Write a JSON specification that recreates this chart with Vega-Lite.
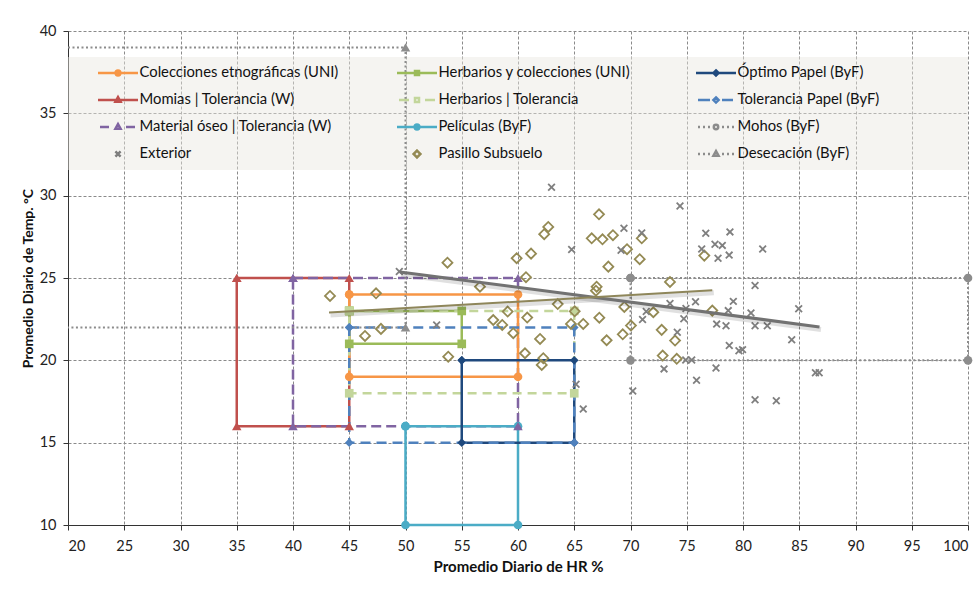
{
  "$schema": "https://vega.github.io/schema/vega-lite/v6.json",
  "width": 900,
  "height": 494,
  "autosize": {"type": "none"},
  "padding": {"left": 68, "top": 31, "right": 6, "bottom": 77},
  "background": "white",
  "datasets": {
    "shapes": [
      {"s": "Momias | Tolerancia (W)", "o": 1, "x": 35, "y": 25},
      {"s": "Momias | Tolerancia (W)", "o": 2, "x": 45, "y": 25},
      {"s": "Momias | Tolerancia (W)", "o": 3, "x": 45, "y": 16},
      {"s": "Momias | Tolerancia (W)", "o": 4, "x": 35, "y": 16},
      {"s": "Momias | Tolerancia (W)", "o": 5, "x": 35, "y": 25},
      {"s": "Material óseo | Tolerancia (W)", "o": 1, "x": 40, "y": 25},
      {"s": "Material óseo | Tolerancia (W)", "o": 2, "x": 60, "y": 25},
      {"s": "Material óseo | Tolerancia (W)", "o": 3, "x": 60, "y": 16},
      {"s": "Material óseo | Tolerancia (W)", "o": 4, "x": 40, "y": 16},
      {"s": "Material óseo | Tolerancia (W)", "o": 5, "x": 40, "y": 25},
      {"s": "Colecciones etnográficas (UNI)", "o": 1, "x": 45, "y": 24},
      {"s": "Colecciones etnográficas (UNI)", "o": 2, "x": 60, "y": 24},
      {"s": "Colecciones etnográficas (UNI)", "o": 3, "x": 60, "y": 19},
      {"s": "Colecciones etnográficas (UNI)", "o": 4, "x": 45, "y": 19},
      {"s": "Colecciones etnográficas (UNI)", "o": 5, "x": 45, "y": 24},
      {"s": "Herbarios y colecciones (UNI)", "o": 1, "x": 45, "y": 23},
      {"s": "Herbarios y colecciones (UNI)", "o": 2, "x": 55, "y": 23},
      {"s": "Herbarios y colecciones (UNI)", "o": 3, "x": 55, "y": 21},
      {"s": "Herbarios y colecciones (UNI)", "o": 4, "x": 45, "y": 21},
      {"s": "Herbarios y colecciones (UNI)", "o": 5, "x": 45, "y": 23},
      {"s": "Herbarios | Tolerancia", "o": 1, "x": 45, "y": 23},
      {"s": "Herbarios | Tolerancia", "o": 2, "x": 65, "y": 23},
      {"s": "Herbarios | Tolerancia", "o": 3, "x": 65, "y": 18},
      {"s": "Herbarios | Tolerancia", "o": 4, "x": 45, "y": 18},
      {"s": "Herbarios | Tolerancia", "o": 5, "x": 45, "y": 23},
      {"s": "Películas (ByF)", "o": 1, "x": 50, "y": 16},
      {"s": "Películas (ByF)", "o": 2, "x": 60, "y": 16},
      {"s": "Películas (ByF)", "o": 3, "x": 60, "y": 10},
      {"s": "Películas (ByF)", "o": 4, "x": 50, "y": 10},
      {"s": "Películas (ByF)", "o": 5, "x": 50, "y": 16},
      {"s": "Óptimo Papel (ByF)", "o": 1, "x": 55, "y": 20},
      {"s": "Óptimo Papel (ByF)", "o": 2, "x": 65, "y": 20},
      {"s": "Óptimo Papel (ByF)", "o": 3, "x": 65, "y": 15},
      {"s": "Óptimo Papel (ByF)", "o": 4, "x": 55, "y": 15},
      {"s": "Óptimo Papel (ByF)", "o": 5, "x": 55, "y": 20},
      {"s": "Tolerancia Papel (ByF)", "o": 1, "x": 45, "y": 22},
      {"s": "Tolerancia Papel (ByF)", "o": 2, "x": 65, "y": 22},
      {"s": "Tolerancia Papel (ByF)", "o": 3, "x": 65, "y": 15},
      {"s": "Tolerancia Papel (ByF)", "o": 4, "x": 45, "y": 15},
      {"s": "Tolerancia Papel (ByF)", "o": 5, "x": 45, "y": 22},
      {"s": "Mohos (ByF)", "o": 1, "x": 70, "y": 25},
      {"s": "Mohos (ByF)", "o": 2, "x": 100, "y": 25},
      {"s": "Mohos (ByF)", "o": 3, "x": 100, "y": 20},
      {"s": "Mohos (ByF)", "o": 4, "x": 70, "y": 20},
      {"s": "Mohos (ByF)", "o": 5, "x": 70, "y": 25},
      {"s": "Desecación (ByF)", "o": 1, "x": 20, "y": 39},
      {"s": "Desecación (ByF)", "o": 2, "x": 50, "y": 39},
      {"s": "Desecación (ByF)", "o": 3, "x": 50, "y": 22},
      {"s": "Desecación (ByF)", "o": 4, "x": 20, "y": 22}
    ],
    "exterior": [
      {"x": 49.45, "y": 25.39}, {"x": 52.77, "y": 22.15}, {"x": 62.98, "y": 30.51}, {"x": 64.77, "y": 26.73},
      {"x": 69.42, "y": 28.02}, {"x": 71.0, "y": 27.74}, {"x": 69.16, "y": 26.68}, {"x": 74.4, "y": 29.37},
      {"x": 73.51, "y": 23.45}, {"x": 75.78, "y": 23.56}, {"x": 76.69, "y": 27.72}, {"x": 78.84, "y": 27.8},
      {"x": 76.33, "y": 26.76}, {"x": 77.51, "y": 27.05}, {"x": 78.16, "y": 26.98}, {"x": 77.78, "y": 26.2},
      {"x": 78.77, "y": 26.39}, {"x": 81.75, "y": 26.76}, {"x": 81.07, "y": 24.54}, {"x": 74.93, "y": 23.15},
      {"x": 74.74, "y": 22.53}, {"x": 71.07, "y": 22.48}, {"x": 71.4, "y": 22.96}, {"x": 79.14, "y": 23.58},
      {"x": 78.69, "y": 23.02}, {"x": 80.71, "y": 22.88}, {"x": 77.66, "y": 22.2}, {"x": 78.49, "y": 22.1},
      {"x": 81.07, "y": 22.1}, {"x": 82.16, "y": 22.1}, {"x": 84.95, "y": 23.13}, {"x": 84.33, "y": 21.25},
      {"x": 78.78, "y": 20.9}, {"x": 79.64, "y": 20.58}, {"x": 79.96, "y": 20.65}, {"x": 74.16, "y": 21.71},
      {"x": 75.44, "y": 20.02}, {"x": 72.98, "y": 19.48}, {"x": 77.6, "y": 19.54}, {"x": 75.87, "y": 18.79},
      {"x": 70.2, "y": 18.14}, {"x": 81.07, "y": 17.61}, {"x": 82.96, "y": 17.55}, {"x": 65.8, "y": 17.04},
      {"x": 86.44, "y": 19.25}, {"x": 86.77, "y": 19.25}, {"x": 65.16, "y": 18.55}, {"x": 74.91, "y": 20.02}
    ],
    "pasillo": [
      {"x": 43.29, "y": 23.91}, {"x": 47.38, "y": 24.07}, {"x": 46.4, "y": 21.48}, {"x": 47.82, "y": 21.91},
      {"x": 53.73, "y": 25.93}, {"x": 53.8, "y": 20.22}, {"x": 56.62, "y": 24.47}, {"x": 57.8, "y": 22.45},
      {"x": 58.6, "y": 22.15}, {"x": 59.08, "y": 22.96}, {"x": 59.58, "y": 21.65}, {"x": 59.88, "y": 26.2},
      {"x": 60.71, "y": 25.05}, {"x": 60.82, "y": 22.6}, {"x": 61.16, "y": 26.48}, {"x": 61.96, "y": 21.3},
      {"x": 62.33, "y": 27.66}, {"x": 62.69, "y": 28.1}, {"x": 60.62, "y": 20.43}, {"x": 62.25, "y": 20.13},
      {"x": 62.11, "y": 19.72}, {"x": 63.53, "y": 23.42}, {"x": 65.04, "y": 22.98}, {"x": 64.71, "y": 22.21},
      {"x": 65.8, "y": 22.21}, {"x": 66.55, "y": 27.41}, {"x": 66.99, "y": 24.47}, {"x": 66.93, "y": 24.23},
      {"x": 67.2, "y": 28.87}, {"x": 67.51, "y": 27.35}, {"x": 68.44, "y": 27.6}, {"x": 67.23, "y": 22.59},
      {"x": 67.88, "y": 21.22}, {"x": 68.03, "y": 25.69}, {"x": 69.31, "y": 21.58}, {"x": 69.45, "y": 23.24},
      {"x": 69.69, "y": 26.75}, {"x": 70.04, "y": 22.11}, {"x": 70.82, "y": 26.14}, {"x": 71.0, "y": 27.41},
      {"x": 72.03, "y": 22.92}, {"x": 72.77, "y": 21.85}, {"x": 72.86, "y": 20.29}, {"x": 73.51, "y": 24.76},
      {"x": 73.96, "y": 21.2}, {"x": 74.11, "y": 20.09}, {"x": 76.56, "y": 26.36}, {"x": 77.27, "y": 23.02}
    ],
    "trends": [
      {"t": "Exterior", "x": 49.5, "y": 25.37},
      {"t": "Exterior", "x": 86.8, "y": 22.03},
      {"t": "Pasillo Subsuelo", "x": 43.2, "y": 22.9},
      {"t": "Pasillo Subsuelo", "x": 77.27, "y": 24.25}
    ]
  },
  "config": {
    "view": {"stroke": null},
    "axis": {
      "grid": true,
      "gridColor": "#8a8a8a",
      "gridDash": [3, 2],
      "gridWidth": 1,
      "domainColor": "#333333",
      "tickColor": "#333333",
      "tickSize": 5,
      "labelFont": "Lato",
      "titleFont": "Lato",
      "labelColor": "#222222",
      "titleColor": "#111111",
      "titleFontWeight": "bold"
    },
    "legend": {
      "orient": "none",
      "legendX": 28.5,
      "legendY": 34,
      "columns": 3,
      "gridAlign": "all",
      "columnPadding": 57,
      "rowPadding": 11,
      "symbolSize": 1600,
      "clipHeight": 16,
      "labelFont": "Lato",
      "labelFontSize": 14.8,
      "labelColor": "#111111",
      "labelOffset": 0,
      "labelLimit": 400,
      "padding": 0,
      "symbolStrokeWidth": 2.5,
      "symbolOpacity": 1
    }
  },
  "layer": [
    {
      "data": {"values": [{}]},
      "mark": {"type": "rect", "color": "#E9E7DF", "opacity": 0.45},
      "encoding": {
        "x": {"datum": 20, "type": "quantitative"},
        "x2": {"datum": 100},
        "y": {"datum": 38.42, "type": "quantitative"},
        "y2": {"datum": 31.56}
      }
    },
    {
      "data": {"name": "shapes"},
      "transform": [{"filter": "datum.s !== 'Mohos (ByF)' && datum.s !== 'Desecación (ByF)'"}],
      "mark": {"type": "line", "strokeWidth": 2.5, "strokeCap": "butt", "strokeJoin": "miter"},
      "encoding": {
        "x": {
          "field": "x", "type": "quantitative",
          "scale": {"domain": [20, 100], "nice": false, "zero": false},
          "axis": {
            "values": [20, 25, 30, 35, 40, 45, 50, 55, 60, 65, 70, 75, 80, 85, 90, 95, 100],
            "title": "Promedio Diario de HR %",
            "labelFontSize": 14.5,
            "labelPadding": 9,
            "titleFontSize": 15,
            "titlePadding": 7
          }
        },
        "y": {
          "field": "y", "type": "quantitative",
          "scale": {"domain": [10, 40], "nice": false, "zero": false},
          "axis": {
            "values": [10, 15, 20, 25, 30, 35, 40],
            "title": "Promedio Diario de Temp. °C",
            "labelFontSize": 14.5,
            "labelPadding": 7,
            "titleFontSize": 14,
            "titlePadding": 4
          }
        },
        "stroke": {
          "field": "s", "type": "nominal", "legend": null,
          "scale": {
            "domain": ["Colecciones etnográficas (UNI)", "Herbarios y colecciones (UNI)", "Óptimo Papel (ByF)", "Momias | Tolerancia (W)", "Herbarios | Tolerancia", "Tolerancia Papel (ByF)", "Material óseo | Tolerancia (W)", "Películas (ByF)", "Mohos (ByF)", "Desecación (ByF)"],
            "range": ["#F79646", "#9BBB59", "#1F497D", "#C0504D", "#C3D69B", "#4F81BD", "#8064A2", "#4BACC6", "#8C8C8C", "#8C8C8C"]
          }
        },
        "strokeDash": {
          "field": "s", "type": "nominal", "legend": null,
          "scale": {
            "domain": ["Momias | Tolerancia (W)", "Material óseo | Tolerancia (W)", "Colecciones etnográficas (UNI)", "Herbarios y colecciones (UNI)", "Herbarios | Tolerancia", "Películas (ByF)", "Óptimo Papel (ByF)", "Tolerancia Papel (ByF)"],
            "range": [[1, 0], [10, 5], [1, 0], [1, 0], [9, 6], [1, 0], [1, 0], [10, 6]]
          }
        },
        "order": {"field": "o", "type": "quantitative"}
      }
    },
    {
      "data": {"name": "shapes"},
      "transform": [{"filter": "datum.s === 'Mohos (ByF)' || datum.s === 'Desecación (ByF)'"}],
      "mark": {"type": "line", "strokeWidth": 2, "strokeDash": [2, 2.5], "strokeCap": "butt", "color": "#8C8C8C"},
      "encoding": {
        "x": {"field": "x", "type": "quantitative"},
        "y": {"field": "y", "type": "quantitative"},
        "detail": {"field": "s"},
        "order": {"field": "o", "type": "quantitative"}
      }
    },
    {
      "data": {"name": "shapes"},
      "transform": [{"filter": {"field": "s", "oneOf": ["Colecciones etnográficas (UNI)", "Películas (ByF)", "Mohos (ByF)"]}}],
      "mark": {"type": "point", "shape": "circle", "filled": true, "size": 75, "opacity": 1},
      "encoding": {
        "x": {"field": "x", "type": "quantitative"},
        "y": {"field": "y", "type": "quantitative"},
        "fill": {
          "field": "s", "type": "nominal", "legend": null,
          "scale": {
            "domain": ["Colecciones etnográficas (UNI)", "Herbarios y colecciones (UNI)", "Óptimo Papel (ByF)", "Momias | Tolerancia (W)", "Herbarios | Tolerancia", "Tolerancia Papel (ByF)", "Material óseo | Tolerancia (W)", "Películas (ByF)", "Mohos (ByF)", "Desecación (ByF)"],
            "range": ["#F79646", "#9BBB59", "#1F497D", "#C0504D", "#C3D69B", "#4F81BD", "#8064A2", "#4BACC6", "#8C8C8C", "#8C8C8C"]
          }
        }
      }
    },
    {
      "data": {"name": "shapes"},
      "transform": [{"filter": "datum.s === 'Momias | Tolerancia (W)' || datum.s === 'Material óseo | Tolerancia (W)' || (datum.s === 'Desecación (ByF)' && datum.x === 50)"}],
      "mark": {"type": "point", "shape": "triangle-up", "filled": true, "size": 90, "opacity": 1},
      "encoding": {
        "x": {"field": "x", "type": "quantitative"},
        "y": {"field": "y", "type": "quantitative"},
        "fill": {"field": "s", "type": "nominal", "legend": null}
      }
    },
    {
      "data": {"name": "shapes"},
      "transform": [{"filter": {"field": "s", "oneOf": ["Herbarios y colecciones (UNI)", "Herbarios | Tolerancia"]}}],
      "mark": {"type": "point", "shape": "square", "filled": true, "size": 75, "opacity": 1},
      "encoding": {
        "x": {"field": "x", "type": "quantitative"},
        "y": {"field": "y", "type": "quantitative"},
        "fill": {"field": "s", "type": "nominal", "legend": null}
      }
    },
    {
      "data": {"name": "shapes"},
      "transform": [{"filter": {"field": "s", "oneOf": ["Óptimo Papel (ByF)", "Tolerancia Papel (ByF)"]}}],
      "mark": {"type": "point", "shape": "diamond", "filled": true, "size": 75, "opacity": 1},
      "encoding": {
        "x": {"field": "x", "type": "quantitative"},
        "y": {"field": "y", "type": "quantitative"},
        "fill": {"field": "s", "type": "nominal", "legend": null}
      }
    },
    {
      "data": {"name": "pasillo"},
      "mark": {"type": "point", "shape": "diamond", "filled": false, "size": 100, "strokeWidth": 1.8, "color": "#948A54", "opacity": 1},
      "encoding": {
        "x": {"field": "x", "type": "quantitative"},
        "y": {"field": "y", "type": "quantitative"}
      }
    },
    {
      "data": {"name": "exterior"},
      "mark": {"type": "point", "shape": "M-1,-1L1,1M-1,1L1,-1", "filled": false, "size": 45, "strokeWidth": 1.8, "color": "#7F7F7F", "opacity": 1},
      "encoding": {
        "x": {"field": "x", "type": "quantitative"},
        "y": {"field": "y", "type": "quantitative"}
      }
    },
    {
      "data": {"name": "trends"},
      "mark": {"type": "line", "strokeWidth": 5, "color": "#000000", "opacity": 0.12, "xOffset": 1.5, "yOffset": 2.5},
      "encoding": {
        "x": {"field": "x", "type": "quantitative"},
        "y": {"field": "y", "type": "quantitative"},
        "detail": {"field": "t"}
      }
    },
    {
      "data": {"name": "trends"},
      "transform": [{"filter": "datum.t === 'Exterior'"}],
      "mark": {"type": "line", "strokeWidth": 3, "color": "#727272"},
      "encoding": {
        "x": {"field": "x", "type": "quantitative"},
        "y": {"field": "y", "type": "quantitative"}
      }
    },
    {
      "data": {"name": "trends"},
      "transform": [{"filter": "datum.t === 'Pasillo Subsuelo'"}],
      "mark": {"type": "line", "strokeWidth": 2, "color": "#8E865A"},
      "encoding": {
        "x": {"field": "x", "type": "quantitative"},
        "y": {"field": "y", "type": "quantitative"}
      }
    },
    {
      "data": {"name": "shapes"},
      "mark": {"type": "point", "filled": false, "opacity": 0, "strokeWidth": 2.5},
      "encoding": {
        "x": {"field": "x", "type": "quantitative"},
        "y": {"field": "y", "type": "quantitative"},
        "color": {
          "field": "s", "type": "nominal",
          "scale": {
            "domain": ["Colecciones etnográficas (UNI)", "Momias | Tolerancia (W)", "Material óseo | Tolerancia (W)", "Exterior", "Herbarios y colecciones (UNI)", "Herbarios | Tolerancia", "Películas (ByF)", "Pasillo Subsuelo", "Óptimo Papel (ByF)", "Tolerancia Papel (ByF)", "Mohos (ByF)", "Desecación (ByF)"],
            "range": ["#F79646", "#C0504D", "#8064A2", "#7F7F7F", "#9BBB59", "#C3D69B", "#4BACC6", "#948A54", "#1F497D", "#4F81BD", "#8C8C8C", "#8C8C8C"]
          },
          "legend": {"title": null}
        },
        "shape": {
          "field": "s", "type": "nominal",
          "scale": {
            "domain": ["Colecciones etnográficas (UNI)", "Momias | Tolerancia (W)", "Material óseo | Tolerancia (W)", "Exterior", "Herbarios y colecciones (UNI)", "Herbarios | Tolerancia", "Películas (ByF)", "Pasillo Subsuelo", "Óptimo Papel (ByF)", "Tolerancia Papel (ByF)", "Mohos (ByF)", "Desecación (ByF)"],
            "range": [
              "M-1,0H1M0.12,0A0.12,0.12,0,1,1,-0.12,0A0.12,0.12,0,1,1,0.12,0Z",
              "M-1,0H1M0,-0.15L0.13,0.09L-0.13,0.09Z",
              "M-0.9,0H-0.45M0.4,0H0.85M0,-0.15L0.13,0.09L-0.13,0.09Z",
              "M-0.13,-0.13L0.13,0.13M-0.13,0.13L0.13,-0.13",
              "M-1,0H1M-0.1,-0.1H0.1V0.1H-0.1Z",
              "M-0.9,0H-0.4M0.4,0H0.9M-0.1,-0.1H0.1V0.1H-0.1Z",
              "M-1,0H1M0.12,0A0.12,0.12,0,1,1,-0.12,0A0.12,0.12,0,1,1,0.12,0Z",
              "M0,-0.17L0.17,0L0,0.17L-0.17,0Z",
              "M-1,0H1M0,-0.13L0.13,0L0,0.13L-0.13,0Z",
              "M-0.9,0H-0.3M0.3,0H0.85M0,-0.13L0.13,0L0,0.13L-0.13,0Z",
              "M-0.9,0H-0.8M-0.65,0H-0.55M-0.4,0H-0.3M0.3,0H0.4M0.55,0H0.65M0.8,0H0.9M0.11,0A0.11,0.11,0,1,1,-0.11,0A0.11,0.11,0,1,1,0.11,0Z",
              "M-0.9,0H-0.8M-0.65,0H-0.55M-0.4,0H-0.3M0.3,0H0.4M0.55,0H0.65M0.8,0H0.9M0,-0.15L0.13,0.09L-0.13,0.09Z"
            ]
          },
          "legend": {"title": null}
        }
      }
    }
  ]
}
